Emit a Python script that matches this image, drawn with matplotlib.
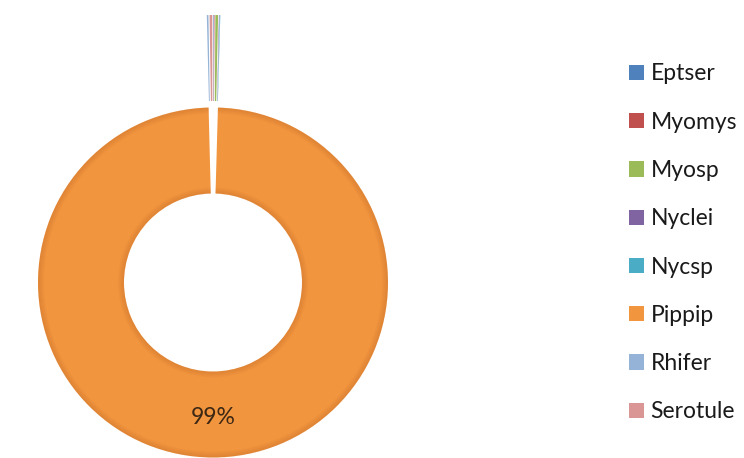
import matplotlib.pyplot as plt
from matplotlib.patches import Wedge

# Bat species counts
species = ['Eptser', 'Myomys', 'Myosp', 'Nyclei', 'Nycsp', 'Pippip', 'Rhifer', 'Serotule']
counts = [1, 1, 5, 1, 1, 1983, 3, 5]
colors = ['#4F81BD', '#C0504D', '#9BBB59', '#8064A2', '#4BACC6',
          '#F2953F', '#95B3D7', '#D99694']
# offsets in data units (pixels here)
explode = [89, 89, 89, 89, 89, 3.5, 89, 89]

plt.rcParams['font.family'] = ['Lato', 'DejaVu Sans']

fig = plt.figure(figsize=(7.44, 4.58), dpi=100)
ax = fig.add_axes([0, 0, 1, 1])


def pct_label(p):
    return '%.0f%%' % p if p >= 1 else ''


wedges, texts, autotexts = ax.pie(
    counts, colors=colors, explode=explode, startangle=90, counterclock=False,
    center=(213, 179), radius=175, autopct=pct_label, pctdistance=0.77,
    wedgeprops=dict(width=86, edgecolor='none', linewidth=0),
    textprops=dict(fontsize=16.5, color='#3d2814'))

# soft darkening toward the rims of the big ring
big = wedges[5]
cx, cy = big.center
inner = big.r - 86
for k in range(6):
    a = 0.22 * (1 - k / 6)
    ax.add_patch(Wedge((cx, cy), big.r - k, big.theta1, big.theta2, width=1.2,
                       facecolor='#a8561a', edgecolor='none', alpha=a))
    ax.add_patch(Wedge((cx, cy), inner + k + 1.2, big.theta1, big.theta2, width=1.2,
                       facecolor='#a8561a', edgecolor='none', alpha=a))

ax.set_xlim(0, 744)
ax.set_ylim(0, 458)
ax.set_aspect('equal')
ax.axis('off')

fig.legend(wedges, species, loc='center left', bbox_to_anchor=(0.845, 0.4697),
           frameon=False, fontsize=16.5, handlelength=0.65, handleheight=0.65,
           handletextpad=0.3, labelspacing=1.19, borderpad=0, borderaxespad=0,
           labelcolor='#1a1a1a')

fig.savefig('out.png', dpi=100)
